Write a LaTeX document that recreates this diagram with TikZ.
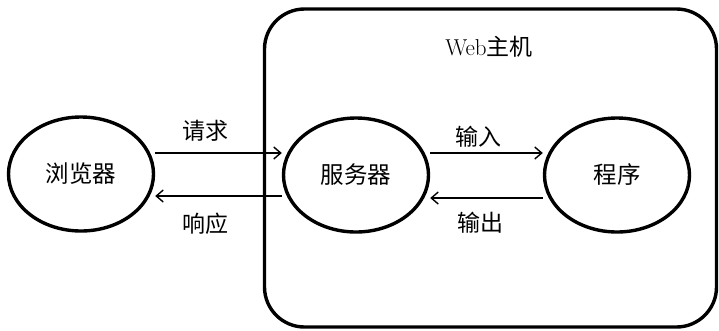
\documentclass[tikz,border=0pt]{standalone}
\usepackage{fontspec}
\newfontfamily\cjk{Noto Sans CJK SC}
\usetikzlibrary{shapes.geometric,arrows.meta}
\tikzset{
  proc/.style={ellipse, draw, line width=3.4pt, minimum width=145pt, minimum height=114pt, inner sep=0pt, font=\fontsize{23.5}{26}\selectfont\cjk},
  hostbox/.style={draw, line width=3.4pt, rounded corners=40pt, minimum width=452pt, minimum height=318pt, inner sep=0pt},
  flow/.style={line width=1.4pt, -{Straight Barb[length=7pt,width=12pt,line width=1.4pt]}},
  lbl/.style={font=\fontsize{23}{26}\selectfont\cjk, inner sep=0pt}
}
\begin{document}
\begin{tikzpicture}[x=1pt,y=-1pt]
\useasboundingbox[fill=white] (0,0) rectangle (719,330);
\node[hostbox] (host) at (490.5,168) {};
\node[inner sep=0pt, font=\fontsize{23}{26}\selectfont] (title) at (489,47) {Web{\cjk 主机}};
\node[proc] (browser) at (81,174) {浏览器};
\node[proc] (server) at (356,175) {服务器};
\node[proc] (program) at (617,175) {程序};
\draw[flow] ([yshift=21pt]browser.east) -- ([yshift=22pt]server.west);
\draw[flow] ([yshift=-21pt]server.west) -- ([yshift=-22pt]browser.east);
\draw[flow] ([yshift=22pt]server.east) -- ([yshift=22pt]program.west);
\draw[flow] ([yshift=-23pt]program.west) -- ([yshift=-23pt]server.east);
\node[lbl] (req) at (205,131) {请求};
\node[lbl] (resp) at (205,224) {响应};
\node[lbl] (in) at (478,137) {输入};
\node[lbl] (out) at (480,223) {输出};
\end{tikzpicture}
\end{document}
